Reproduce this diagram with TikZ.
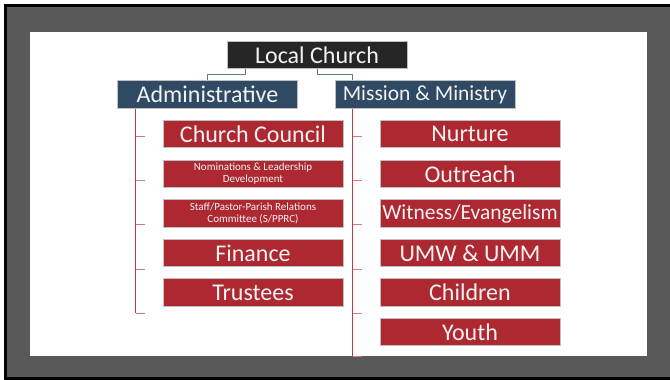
\documentclass[tikz,border=0pt]{standalone}
\usepackage{fontspec}
\setmainfont{Carlito}
\usepackage{tikz}
\definecolor{slide}{RGB}{89,89,89}
\definecolor{topbox}{RGB}{38,38,38}
\definecolor{midbox}{RGB}{47,74,98}
\definecolor{itembox}{RGB}{173,40,48}
\definecolor{boxrim}{RGB}{191,191,191}
\definecolor{treeline}{RGB}{93,126,155}
\definecolor{brkline}{RGB}{190,59,69}
\definecolor{tickline}{RGB}{214,120,126}
\definecolor{boxtext}{RGB}{242,242,242}
\newcommand{\chartbig}{\fontsize{24}{24}\selectfont}
\newcommand{\chartmid}{\fontsize{21.5}{22}\selectfont}
\newcommand{\chartsmall}{\fontsize{11}{12}\selectfont}

\begin{document}
\begin{tikzpicture}[x=1pt,y=-1pt,
		chart/.style={draw=boxrim,line width=1pt,text=boxtext,inner sep=0pt,
			minimum width=180pt,minimum height=27.5pt,font=\chartbig,align=center},
		lvlone/.style={chart,fill=topbox},
		lvltwo/.style={chart,fill=midbox},
		item/.style={chart,fill=itembox},
		tree/.style={treeline,line width=1pt},
		brk/.style={brkline,line width=1.2pt},
		tick/.style={tickline,line width=1pt}]
			\useasboundingbox (0,0) rectangle (670,380);
			\fill[white] (0,0) rectangle (670,380);
			\fill[black] (4,4) rectangle (670,380);
			\fill[slide] (7,7) rectangle (670,377);
			\fill[white] (30,32) rectangle (647,356);
			
			\node[lvlone] (lc) at (317,55) {Local Church};
			\node[lvltwo] (admin) at (207.5,94.5) {Administrative};
			\node[lvltwo,font=\chartmid] (mm) at (425,94.5) {Mission \& Ministry};
			\draw[tree] ([xshift=-72pt]lc.south) -- ++(0,5.5) -| (admin.north);
			\draw[tree] (lc.south) -- ++(0,5.5) -| ([xshift=18pt]mm.north west);
			
			\node[item] (council) at (253,134.2) {Church Council};
			\node[item,font=\chartsmall] (nominations) at (253,173.8) {Nominations \& Leadership\\Development};
			\node[item,font=\chartsmall] (sppr) at (253,213.4) {Staff/Pastor-Parish Relations\\Committee (S/PPRC)};
			\node[item] (finance) at (253,253) {Finance};
			\node[item] (trustees) at (253,292.6) {Trustees};
			
			\node[item] (nurture) at (470,134.2) {Nurture};
			\node[item] (outreach) at (470,173.8) {Outreach};
			\node[item,font=\chartmid] (witness) at (470,213.4) {Witness/Evangelism};
			\node[item] (umw) at (470,253) {UMW \& UMM};
			\node[item] (children) at (470,292.6) {Children};
			\node[item] (youth) at (470,332.2) {Youth};
			
			\coordinate (lbrk) at ([xshift=18.5pt]admin.south west);
			\coordinate (rbrk) at ([xshift=18.3pt]mm.south west);
			\draw[brk] (lbrk) -- (lbrk |- 0,313.1);
			\draw[brk] (rbrk) -- (rbrk |- 0,357);
			\foreach \y in {136.7,180.8,224.9,269,313.1}
				\draw[tick] (lbrk |- 0,\y) -- ++(9,0);
			\foreach \y in {136.7,180.8,224.9,269,313.1,356.6}
				\draw[tick] (rbrk |- 0,\y) -- ++(9,0);
			
		\end{tikzpicture}
\end{document}
